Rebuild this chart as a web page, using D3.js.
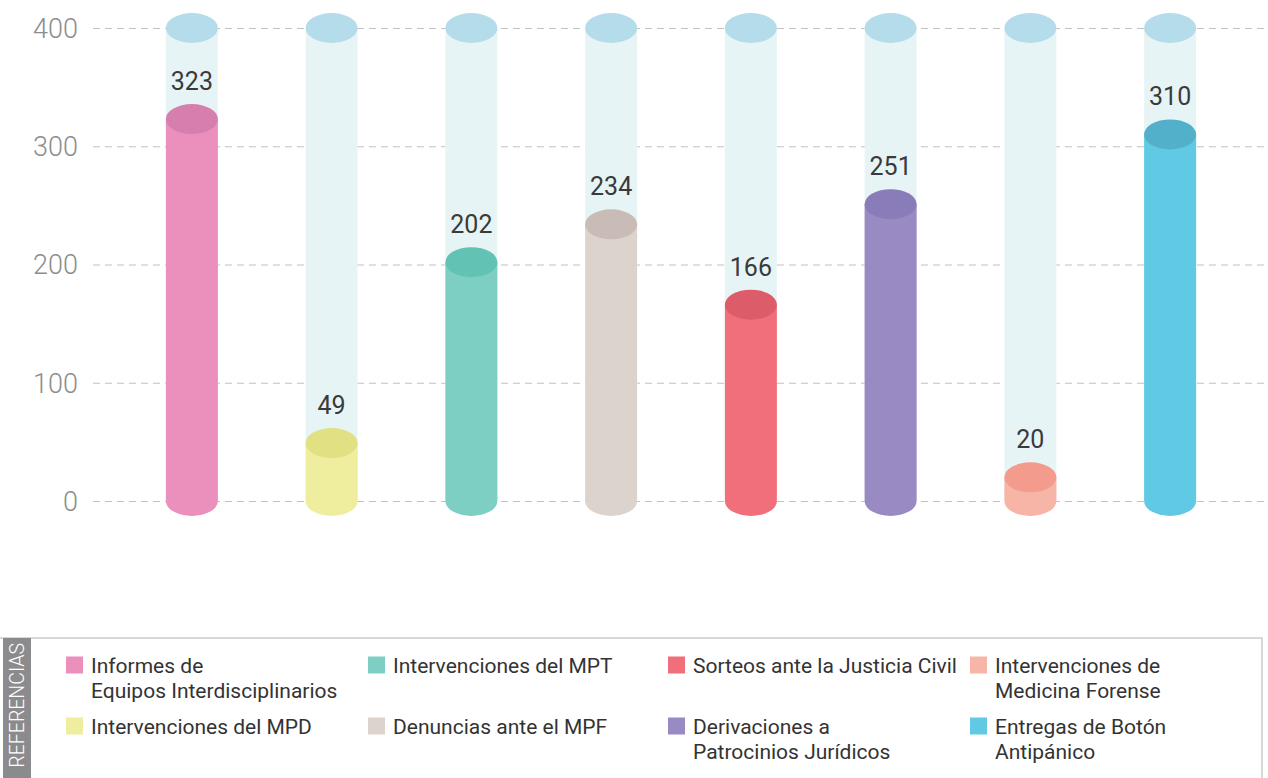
<!DOCTYPE html>
<html>
<head>
<meta charset="utf-8">
<script src="https://cdn.jsdelivr.net/npm/d3@7"></script>
<style>
  html, body { margin: 0; padding: 0; background: #fff; }
  svg { display: block; }
</style>
</head>
<body>
<div id="chart"></div>
<script>
// values
const categories = [
  'Informes de Equipos Interdisciplinarios',
  'Intervenciones del MPD',
  'Intervenciones del MPT',
  'Denuncias ante el MPF',
  'Sorteos ante la Justicia Civil',
  'Derivaciones a Patrocinios Jurídicos',
  'Intervenciones de Medicina Forense',
  'Entregas de Botón Antipánico'
];
const values = [323, 49, 202, 234, 166, 251, 20, 310];
const bodyColors = ['#eb8fbd', '#eeee9e', '#7ccfc2', '#ddd3cd', '#f06f7a', '#9a8ac3', '#f7b5a8', '#60c9e4'];
const capColors = ['#d67fae', '#e1e083', '#62c2b3', '#c9bcb6', '#dc5d69', '#8a7bb9', '#f39b8c', '#52b0cb'];
const yTicks = [0, 100, 200, 300, 400];
const yMax = 400;

// legend: order as laid out in the picture (two rows of four columns)
const legendItems = [
  { lines: ['Informes de', 'Equipos Interdisciplinarios'], color: bodyColors[0], col: 0, row: 0 },
  { lines: ['Intervenciones del MPT'], color: bodyColors[2], col: 1, row: 0 },
  { lines: ['Sorteos ante la Justicia Civil'], color: bodyColors[4], col: 2, row: 0 },
  { lines: ['Intervenciones de', 'Medicina Forense'], color: bodyColors[6], col: 3, row: 0 },
  { lines: ['Intervenciones del MPD'], color: bodyColors[1], col: 0, row: 1 },
  { lines: ['Denuncias ante el MPF'], color: bodyColors[3], col: 1, row: 1 },
  { lines: ['Derivaciones a', 'Patrocinios Jurídicos'], color: bodyColors[5], col: 2, row: 1 },
  { lines: ['Entregas de Botón', 'Antipánico'], color: bodyColors[7], col: 3, row: 1 }
];

const width = 1268, height = 778;
const colors = {
  track: '#e7f4f6',
  trackCap: '#b5dcea',
  grid: '#c2c2c2',
  tick: '#8d8d8d',
  label: '#3a3a3a',
  legendText: '#333333',
  border: '#cccccc',
  tab: '#8b8b8d'
};

const svg = d3.select('#chart').append('svg')
  .attr('width', width)
  .attr('height', height);

const x = d3.scalePoint().domain(categories).range([122, 1240]).padding(0.5);
const y = d3.scaleLinear().domain([0, yMax]).range([501, 28]);

const rx = 26, ry = 15;

// gridlines + tick labels
const yAxis = d3.axisLeft(y).tickValues(yTicks).tickSize(0).tickPadding(0);
const axisG = svg.append('g').attr('transform', 'translate(80,0)').call(yAxis);
axisG.select('.domain').remove();
axisG.selectAll('.tick text')
  .attr('x', -2)
  .attr('dy', '0.35em')
  .attr('fill', colors.tick)
  .attr('font-family', 'Roboto, sans-serif')
  .attr('font-weight', 300)
  .attr('font-size', '27px');
axisG.selectAll('.tick').append('line')
  .attr('x1', 13)
  .attr('x2', width - 80)
  .attr('stroke', colors.grid)
  .attr('stroke-width', 1.2)
  .attr('stroke-dasharray', '7,5');

const cylinder = (cx, yTop, yBot, round) => {
  let p = `M${cx - rx},${yTop} L${cx - rx},${yBot}`;
  if (round) p += ` A${rx},${ry} 0 0 0 ${cx + rx},${yBot}`;
  else p += ` L${cx + rx},${yBot}`;
  return p + ` L${cx + rx},${yTop} Z`;
};

const data = categories.map((c, i) => ({ cat: c, value: values[i], body: bodyColors[i], cap: capColors[i] }));

const bars = svg.append('g').selectAll('g')
  .data(data)
  .enter()
  .append('g');

// background tracks
bars.append('path')
  .attr('fill', colors.track)
  .attr('d', d => cylinder(x(d.cat), y(yMax), y(0), false));
bars.append('ellipse')
  .attr('cx', d => x(d.cat))
  .attr('cy', y(yMax))
  .attr('rx', rx)
  .attr('ry', ry)
  .attr('fill', colors.trackCap);

// value cylinders
bars.append('path')
  .attr('fill', d => d.body)
  .attr('d', d => cylinder(x(d.cat), y(d.value), y(0), true));
bars.append('ellipse')
  .attr('cx', d => x(d.cat))
  .attr('cy', d => y(d.value))
  .attr('rx', rx)
  .attr('ry', ry)
  .attr('fill', d => d.cap);

bars.append('text')
  .attr('x', d => x(d.cat))
  .attr('y', d => y(d.value) - 29)
  .attr('text-anchor', 'middle')
  .attr('fill', colors.label)
  .attr('font-family', 'Roboto, sans-serif')
  .attr('font-size', '25px')
  .text(d => d.value);

// legend box
const legend = svg.append('g');
legend.append('path')
  .attr('fill', 'none')
  .attr('stroke', colors.border)
  .attr('stroke-width', 1.5)
  .attr('d', `M0,638 L1262,638 L1262,${height}`);
legend.append('rect')
  .attr('x', 3).attr('y', 638)
  .attr('width', 28).attr('height', height - 638)
  .attr('fill', colors.tab);
legend.append('text')
  .attr('transform', 'translate(24,643) rotate(-90)')
  .attr('text-anchor', 'end')
  .attr('fill', '#fff')
  .attr('font-family', 'Roboto, sans-serif')
  .attr('font-weight', 300)
  .attr('font-size', '19.5px')
  .text('REFERENCIAS');

const colX = [66, 368, 668, 970];
const rowY = [665, 726];
const lineGap = 25;

const items = legend.selectAll('g.item')
  .data(legendItems)
  .enter()
  .append('g')
  .attr('class', 'item')
  .attr('transform', d => `translate(${colX[d.col]},${rowY[d.row]})`);

items.append('rect')
  .attr('x', 0).attr('y', -8.5)
  .attr('width', 17).attr('height', 17)
  .attr('fill', d => d.color);

items.each(function (d) {
  const g = d3.select(this);
  d.lines.forEach((line, j) => {
    g.append('text')
      .attr('x', 25)
      .attr('y', 8 + j * lineGap)
      .attr('fill', colors.legendText)
      .attr('font-family', 'Roboto, sans-serif')
      .attr('font-size', '21px')
      .text(line);
  });
});
</script>
</body>
</html>
